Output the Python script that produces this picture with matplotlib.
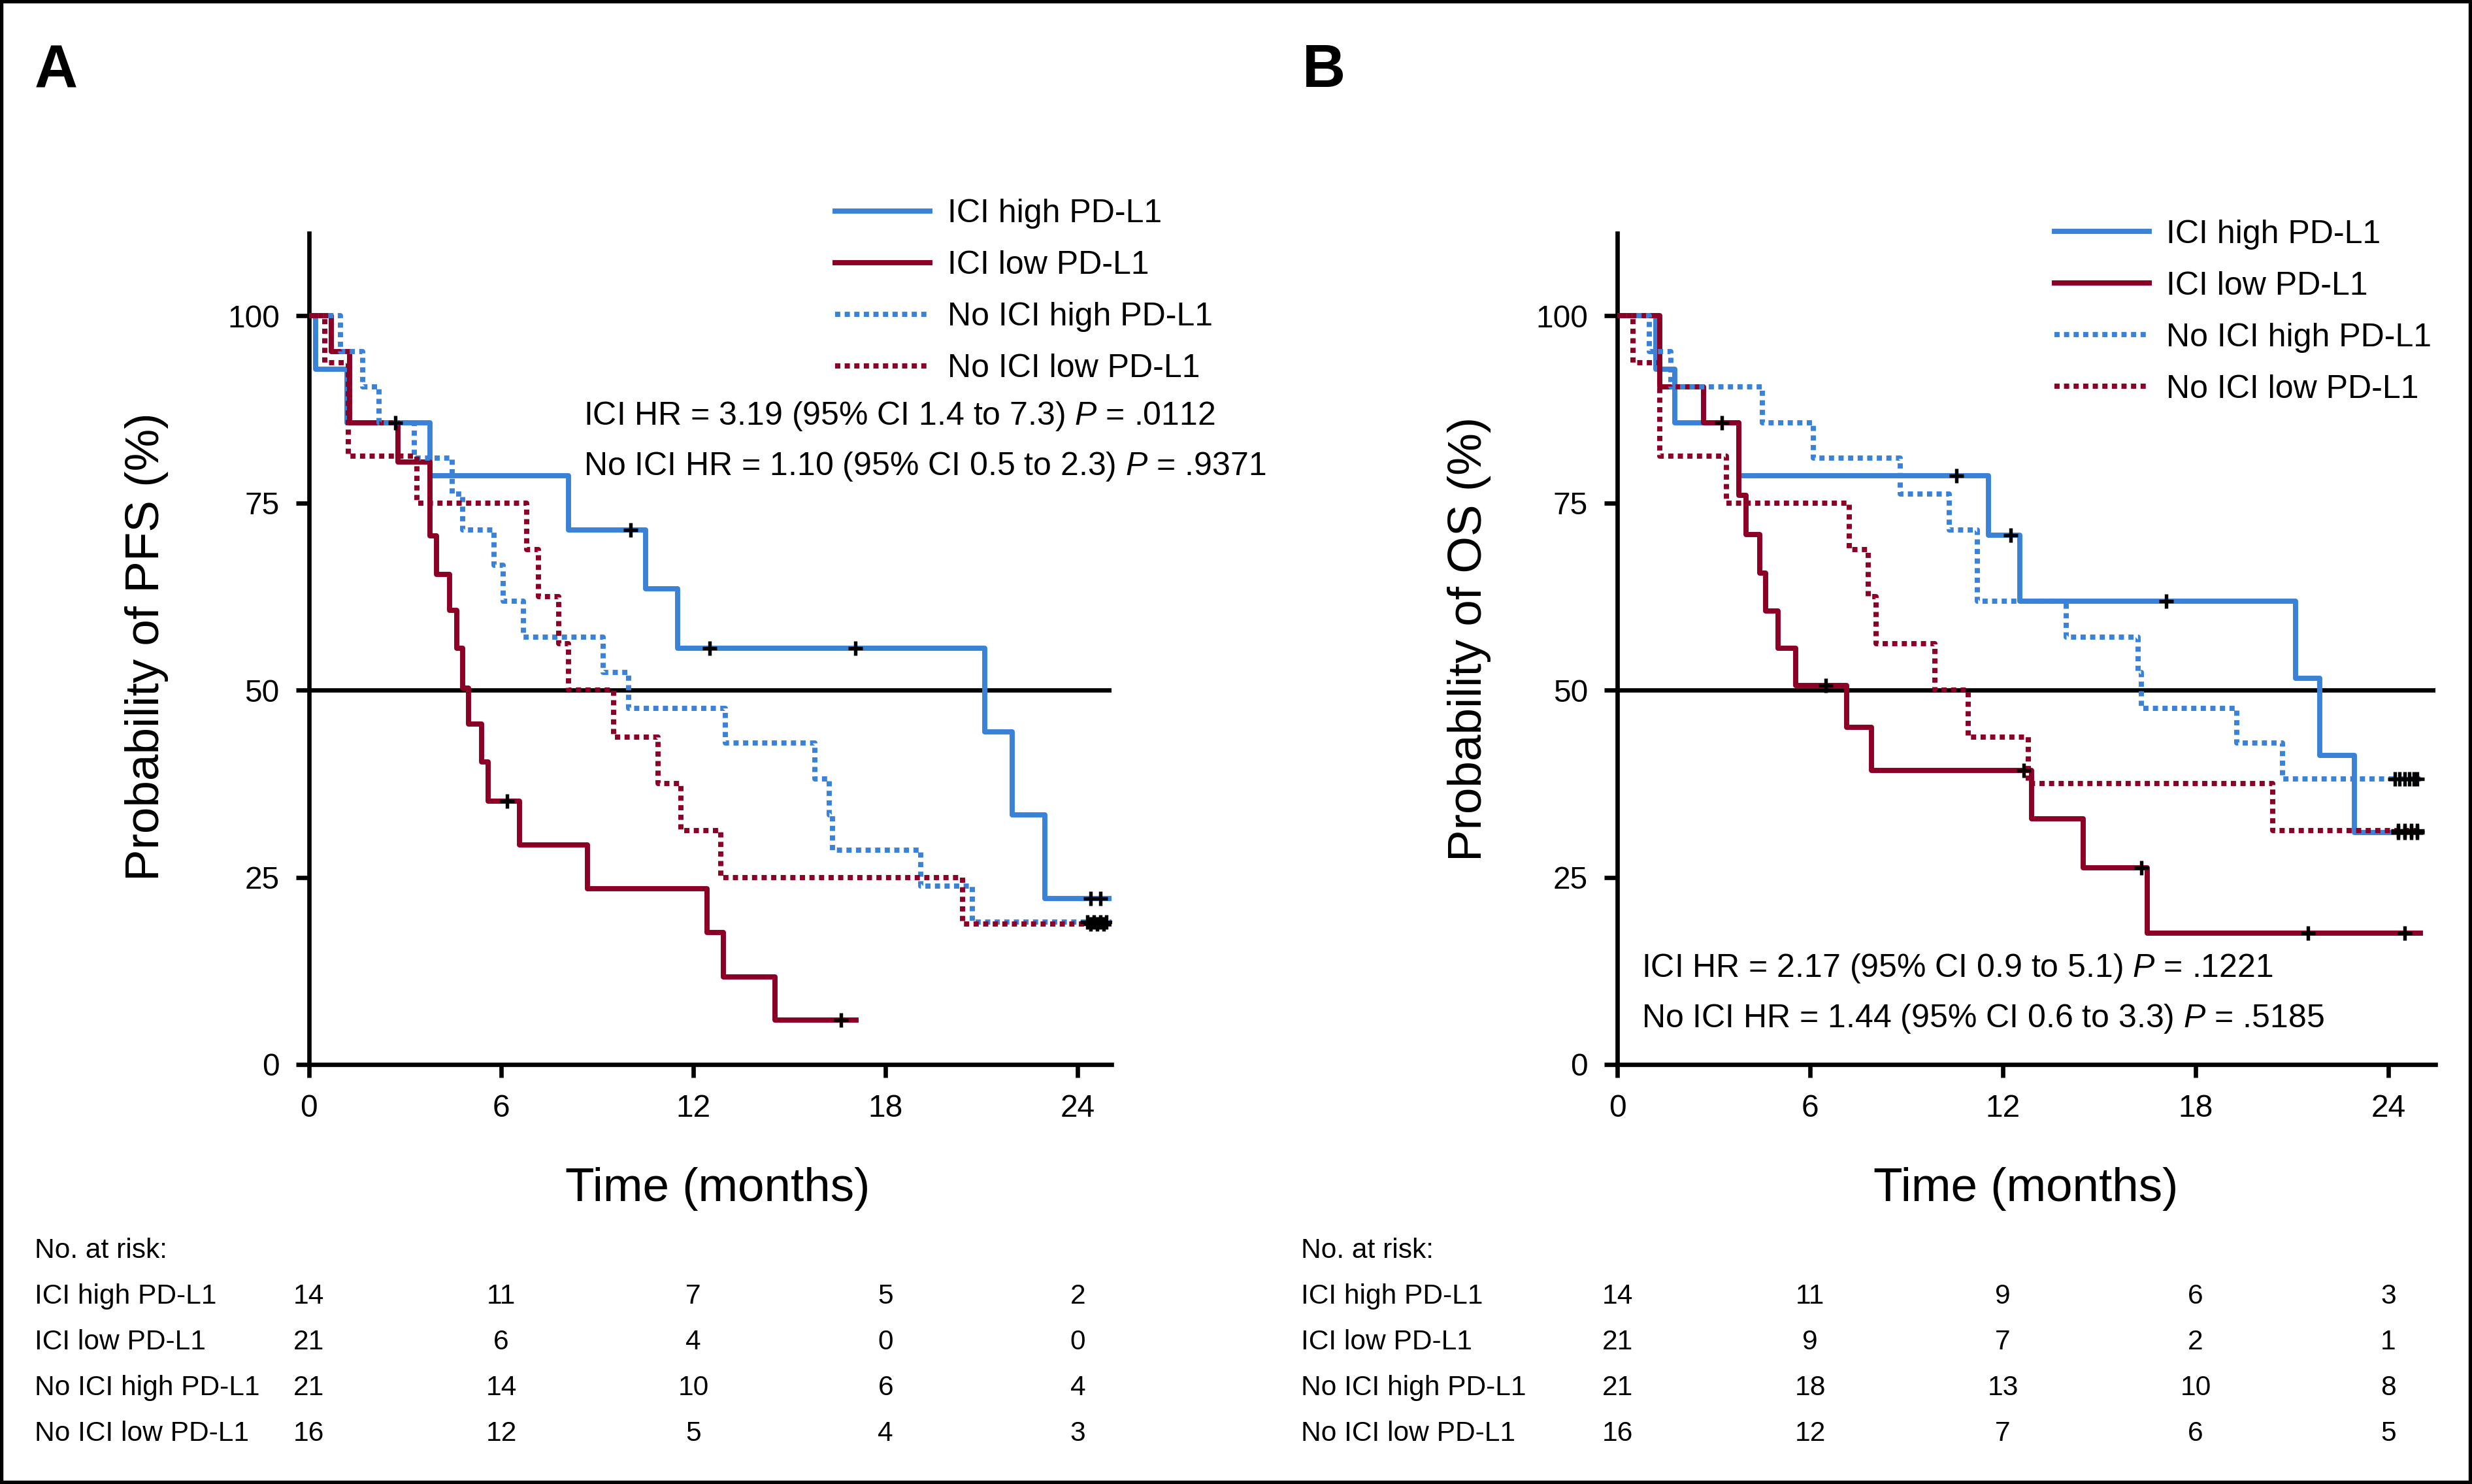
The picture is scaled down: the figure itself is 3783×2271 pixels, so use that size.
import matplotlib
matplotlib.use("Agg")
import matplotlib.pyplot as plt
import matplotlib.transforms as mtransforms
from matplotlib.patches import Rectangle
import numpy as np

plt.rcParams['font.family'] = ['Liberation Sans', 'DejaVu Sans']
plt.rcParams['mathtext.fontset'] = 'custom'
plt.rcParams['mathtext.rm'] = 'Liberation Sans'
plt.rcParams['mathtext.it'] = 'Liberation Sans:italic'

# ---- data ----
groups = ["ICI high PD-L1", "ICI low PD-L1", "No ICI high PD-L1", "No ICI low PD-L1"]
risk_times = [0, 6, 12, 18, 24]

# Panel A: PFS
a_ici_high_t = [0, 0.2, 1.19, 3.78, 8.1, 10.5, 11.5, 21.1, 21.95, 22.97]
a_ici_high_s = [100, 92.9, 85.7, 78.6, 71.4, 63.5, 55.6, 44.4, 33.3, 22.2]
a_ici_high_c = [2.7, 10.04, 12.5, 17.05, 24.4, 24.7]

a_ici_low_t = [0, 0.7, 1.26, 2.78, 3.78, 3.98, 4.39, 4.62, 4.8, 4.98, 5.39, 5.59, 6.58, 8.69, 12.42, 12.93, 14.54]
a_ici_low_s = [100, 95.2, 85.7, 80.5, 70.6, 65.5, 60.7, 55.6, 50.3, 45.5, 40.4, 35.2, 29.3, 23.5, 17.6, 11.7, 5.9]
a_ici_low_c = [6.19, 16.6]

a_noici_high_t = [0, 0.99, 1.67, 2.19, 3.28, 4.48, 4.8, 5.77, 6.06, 6.69, 9.19, 9.98, 12.99, 15.8, 16.24, 16.35, 19.1, 20.7]
a_noici_high_s = [100, 95.2, 90.5, 85.7, 81.0, 76.2, 71.4, 66.7, 61.9, 57.1, 52.4, 47.6, 42.9, 38.1, 33.3, 28.6, 23.8, 19.0]
a_noici_high_c = [24.3, 24.5, 24.7, 24.9]

a_noici_low_t = [0, 0.5, 1.23, 3.37, 6.79, 7.17, 7.8, 8.1, 9.51, 10.9, 11.6, 12.85, 20.4]
a_noici_low_s = [100, 93.75, 81.25, 75, 68.75, 62.5, 56.25, 50, 43.75, 37.5, 31.25, 25, 18.75]
a_noici_low_c = [24.4, 24.6, 24.8]

a_end = [25.05, 17.08, 25.05, 25.05]
a_risk = [[14, 11, 7, 5, 2], [21, 6, 4, 0, 0], [21, 14, 10, 6, 4], [16, 12, 5, 4, 3]]

# Panel B: OS
b_ici_high_t = [0, 1.2, 1.79, 3.77, 11.54, 12.53, 21.1, 21.86, 22.93]
b_ici_high_s = [100, 92.9, 85.7, 78.6, 70.7, 61.9, 51.6, 41.3, 31.0]
b_ici_high_c = [3.25, 10.55, 12.24, 17.09, 24.3, 24.5, 24.7, 24.9]

b_ici_low_t = [0, 1.32, 2.69, 3.77, 4.0, 4.42, 4.61, 5.0, 5.55, 7.13, 7.9, 12.9, 14.5, 16.5]
b_ici_low_s = [100, 90.5, 85.7, 76.0, 70.8, 65.6, 60.6, 55.6, 50.6, 45.0, 39.3, 32.8, 26.3, 17.5]
b_ici_low_c = [6.48, 12.64, 16.3, 21.5, 24.5]

b_noici_high_t = [0, 1.0, 1.67, 4.51, 6.09, 8.8, 10.32, 11.21, 13.97, 16.2, 16.3, 19.28, 20.7]
b_noici_high_s = [100, 95.2, 90.5, 85.7, 81.0, 76.2, 71.4, 61.9, 57.1, 52.4, 47.6, 42.9, 38.1]
b_noici_high_c = [24.2, 24.35, 24.5, 24.65, 24.8, 24.9]

b_noici_low_t = [0, 0.48, 1.32, 3.4, 7.22, 7.8, 8.06, 9.88, 10.92, 12.78, 20.4]
b_noici_low_s = [100, 93.75, 81.25, 75, 68.75, 62.5, 56.25, 50, 43.75, 37.5, 31.25]
b_noici_low_c = [24.3, 24.5, 24.7, 24.9]

b_end = [25.0, 25.0, 25.0, 25.0]
b_risk = [[14, 11, 9, 6, 3], [21, 9, 7, 2, 1], [21, 18, 13, 10, 8], [16, 12, 7, 6, 5]]

a_hr = ["ICI HR = 3.19 (95% CI 1.4 to 7.3) $P$ = .0112",
        "No ICI HR = 1.10 (95% CI 0.5 to 2.3) $P$ = .9371"]
b_hr = ["ICI HR = 2.17 (95% CI 0.9 to 5.1) $P$ = .1221",
        "No ICI HR = 1.44 (95% CI 0.6 to 3.3) $P$ = .5185"]

blue = '#3a82d8'
red = '#8c0026'
colors = [blue, red, blue, red]
dotted = (0, (1.0, 0.85))
styles = ['-', '-', dotted, dotted]

fig = plt.figure(figsize=(12.61, 7.57), dpi=300)
axA = fig.add_axes([0.125, 0.2827, 0.3246, 0.56])
axB = fig.add_axes([0.6543, 0.2827, 0.331, 0.56])


def draw_panel(ax, curves, ends, xmax, ylabel, hr_text, hr_pos, leg_anchor, risk, tab_x):
    ax.axhline(50, color='black', lw=1.6, zorder=1.5)
    for i, (t, s, c) in enumerate(curves):
        tt = list(t) + [ends[i]]
        ss = list(s) + [s[-1]]
        ax.step(tt, ss, where='post', color=colors[i], lw=1.9, linestyle=styles[i],
                label=groups[i], zorder=3)
        idx = np.searchsorted(t, c, side='right') - 1
        ax.plot(c, np.array(s)[idx], linestyle='none', marker='+', color='black',
                ms=5.5, mew=1.3, zorder=5)
    ax.set_xlim(0, xmax)
    ax.set_ylim(0, 111)
    ax.set_xticks(risk_times)
    ax.set_yticks([0, 25, 50, 75, 100])
    ax.spines['top'].set_visible(False)
    ax.spines['right'].set_visible(False)
    ax.spines['left'].set_linewidth(1.6)
    ax.spines['bottom'].set_linewidth(1.6)
    ax.tick_params(direction='out', length=4.8, width=1.6, labelsize=11.5, pad=6)
    ax.text(hr_pos[0], -0.150, "Time (months)", transform=ax.transAxes,
            ha='center', va='center', fontsize=17.5)
    ax.text(hr_pos[1], hr_pos[2], ylabel, transform=ax.transAxes, rotation=90,
            ha='center', va='center', fontsize=17.5)
    for k, line in enumerate(hr_text):
        ax.text(hr_pos[3], hr_pos[4] - k * 0.0605, line, transform=ax.transAxes,
                ha='left', va='center', fontsize=12)
    ax.legend(loc='upper left', bbox_to_anchor=leg_anchor, frameon=False, fontsize=12,
              handlelength=2.9, handletextpad=0.53, labelspacing=0.66,
              borderpad=0, borderaxespad=0)
    # number at risk table
    trans = mtransforms.blended_transform_factory(ax.transData, fig.transFigure)
    rows_y = [0.1265, 0.0956, 0.0648, 0.0340]
    fig.text(tab_x, 0.1573, "No. at risk:", ha='left', va='center', fontsize=10.2)
    for r in range(4):
        fig.text(tab_x, rows_y[r], groups[r], ha='left', va='center', fontsize=10.2)
        for j, tm in enumerate(risk_times):
            ax.text(tm, rows_y[r], str(risk[r][j]), transform=trans,
                    ha='center', va='center', fontsize=10.2)


curvesA = [(a_ici_high_t, a_ici_high_s, a_ici_high_c), (a_ici_low_t, a_ici_low_s, a_ici_low_c),
           (a_noici_high_t, a_noici_high_s, a_noici_high_c), (a_noici_low_t, a_noici_low_s, a_noici_low_c)]
curvesB = [(b_ici_high_t, b_ici_high_s, b_ici_high_c), (b_ici_low_t, b_ici_low_s, b_ici_low_c),
           (b_noici_high_t, b_noici_high_s, b_noici_high_c), (b_noici_low_t, b_noici_low_s, b_noici_low_c)]

draw_panel(axA, curvesA, a_end, 25.05, "Probability of PFS (%)", a_hr,
           (0.509, -0.2024, 0.503, 0.342, 0.780), (0.656, 1.0415), a_risk, 0.014)
draw_panel(axB, curvesB, b_end, 25.47, "Probability of OS (%)", b_hr,
           (0.499, -0.1811, 0.512, 0.029, 0.1157), (0.534, 1.017), b_risk, 0.5262)

fig.text(0.014, 0.952, "A", fontsize=22, fontweight='bold', ha='left', va='center')
fig.text(0.5268, 0.952, "B", fontsize=22, fontweight='bold', ha='left', va='center')

fig.patches.append(Rectangle((0, 0), 1, 1, transform=fig.transFigure, fill=False,
                             edgecolor='black', lw=2.5))

fig.savefig("out.png", dpi=300)
